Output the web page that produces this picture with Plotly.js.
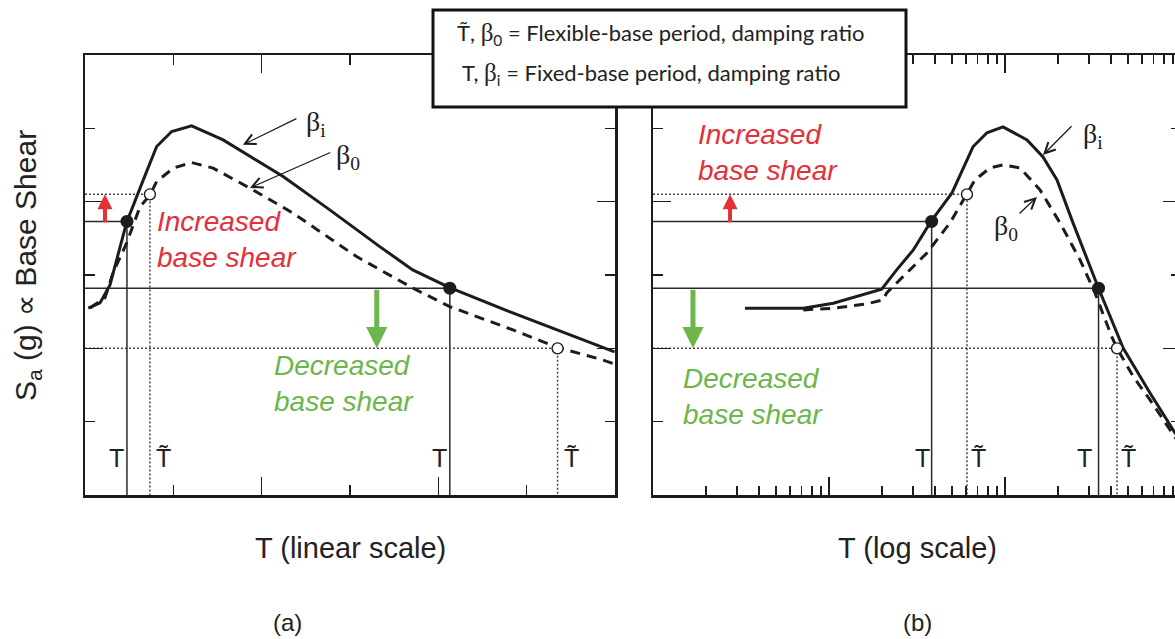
<!DOCTYPE html>
<html><head><meta charset="utf-8">
<script src="https://cdn.plot.ly/plotly-3.0.1.min.js"></script>
<style>html,body{margin:0;padding:0;overflow:hidden;background:#fff}#chart{width:1190px;height:639px}</style>
</head><body><div id="chart"></div>
<script>
// ---------- Panel (a): linear period axis ----------
const linT_fixed  = [0.037, 0.17, 0.283, 0.472, 0.66, 0.811, 0.981, 1.207, 1.564, 2.243, 2.771, 3.337, 3.71, 4.129, 4.842, 5.826, 5.995];
const linSa_fixed = [2.547, 2.619, 2.865, 3.72, 4.297, 4.752, 4.956, 5.034, 4.843, 4.342, 3.888, 3.387, 3.07, 2.828, 2.483, 2.023, 1.951];
const linT_flex   = [0.057, 0.226, 0.317, 0.472, 0.622, 0.735, 0.811, 0.999, 1.207, 1.451, 1.867, 2.356, 3.074, 3.714, 4.129, 4.845, 5.354, 5.826, 5.995];
const linSa_flex  = [2.551, 2.688, 3.029, 3.438, 3.929, 4.09, 4.274, 4.457, 4.533, 4.457, 4.184, 3.843, 3.251, 2.82, 2.569, 2.251, 2.01, 1.855, 1.787];
const linT_fixedPts  = [0.475, 4.13];
const linSa_fixedPts = [3.73, 2.82];
const linT_flexPts   = [0.735, 5.35];
const linSa_flexPts  = [4.10, 2.0];

// ---------- Panel (b): log period axis ----------
const logT_fixed  = [0.0333, 0.0714, 0.1058, 0.15, 0.1992, 0.2424, 0.3013, 0.3797, 0.4998, 0.6579, 0.79, 0.9741, 1.334, 1.644, 1.975, 2.434, 3.40, 4.70, 6.667, 9.246, 10];
const logSa_fixed = [2.547, 2.547, 2.615, 2.715, 2.806, 3.07, 3.342, 3.731, 4.12, 4.748, 4.939, 5.02, 4.843, 4.611, 4.297, 3.711, 2.82, 2.001, 1.392, 0.846, 0.737];
const logT_flex   = [0.0714, 0.1058, 0.1637, 0.2034, 0.2127, 0.2531, 0.3589, 0.487, 0.608, 0.6754, 0.8219, 0.9741, 1.2167, 1.58, 2.054, 2.668, 3.246, 4.04, 4.33, 5.358, 6.667, 8.66, 10];
const logSa_flex  = [2.524, 2.547, 2.606, 2.66, 2.756, 2.933, 3.297, 3.711, 4.10, 4.297, 4.461, 4.502, 4.461, 4.161, 3.711, 3.206, 2.756, 2.16, 2.0, 1.614, 1.296, 0.887, 0.668];
const logT_fixedPts  = [0.383, 3.40];
const logSa_fixedPts = [3.73, 2.82];
const logT_flexPts   = [0.608, 4.33];
const logSa_flexPts  = [4.10, 2.0];

// Texts
const periodLabels = ['T', 'T\u0303'];
const noteLabels = ['<i>Increased<br>base shear</i>', '<i>Decreased<br>base shear</i>'];
const betaLabels = ['β<sub>i</sub>', 'β<sub>0</sub>'];

const W = 1190, H = 639;
const INK = '#1c1c1c';
const RED = '#e3303a';
const GREEN = '#6db64b';

function guide(ts, sas, xStart, xa, ya, dash, width, color) {
  const x = [], y = [];
  ts.forEach((t, i) => { x.push(xStart, t, t, null); y.push(sas[i], sas[i], 0, null); });
  return {x, y, xaxis: xa, yaxis: ya, mode: 'lines', hoverinfo: 'skip',
          line: {color, width, dash}, showlegend: false};
}
function curve(x, y, xa, ya, dash) {
  return {x, y, xaxis: xa, yaxis: ya, mode: 'lines', hoverinfo: 'skip',
          line: {color: INK, width: 3, dash}, showlegend: false};
}
function dots(x, y, xa, ya, filled) {
  return {x, y, xaxis: xa, yaxis: ya, mode: 'markers', hoverinfo: 'skip', showlegend: false, cliponaxis: false,
          marker: filled ? {size: 13, color: INK} : {size: 11, color: '#fff', line: {color: INK, width: 1.4}}};
}

const traces = [
  guide(linT_fixedPts, linSa_fixedPts, 0, 'x', 'y', 'solid', 1.5, '#2a2a2a'),
  guide(linT_flexPts, linSa_flexPts, 0, 'x', 'y', '2px,2px', 1.5, '#444'),
  guide(logT_fixedPts, logSa_fixedPts, 0.01, 'x2', 'y2', 'solid', 1.5, '#2a2a2a'),
  guide(logT_flexPts, logSa_flexPts, 0.01, 'x2', 'y2', '2px,2px', 1.5, '#444'),
  curve(linT_flex, linSa_flex, 'x', 'y', '10px,7px'),
  curve(linT_fixed, linSa_fixed, 'x', 'y', 'solid'),
  curve(logT_flex, logSa_flex, 'x2', 'y2', '10px,7px'),
  curve(logT_fixed, logSa_fixed, 'x2', 'y2', 'solid'),
  dots(linT_fixedPts, linSa_fixedPts, 'x', 'y', true),
  dots(linT_flexPts, linSa_flexPts, 'x', 'y', false),
  dots(logT_fixedPts, logSa_fixedPts, 'x2', 'y2', true),
  dots(logT_flexPts, logSa_flexPts, 'x2', 'y2', false)
];

const logMinor = [];
[0.01, 0.1, 1].forEach(d => { for (let k = 2; k <= 9; k++) logMinor.push(k * d); });

const axBase = {showline: true, linewidth: 2.5, linecolor: INK, mirror: 'ticks', ticks: 'inside',
  ticklen: 18, tickwidth: 1.5, tickcolor: INK, showticklabels: false, showgrid: false, zeroline: false, fixedrange: true};
const ydom = [1 - 495 / H, 1 - 55 / H];

const SANS = 'Liberation Sans, Arial, sans-serif';
const textFont = {family: SANS, size: 25, color: '#222'};
const annotations = [];
function lbl(text, xref, yref, x, y, opts) {
  annotations.push(Object.assign({text, xref, yref, x, y, showarrow: false, xanchor: 'center', yanchor: 'middle', font: textFont}, opts || {}));
}
function arrow(xref, yref, x, y, ax, ay, color, width, head, size) {
  annotations.push({text: '', xref, yref, x, y, axref: xref, ayref: yref, ax, ay, showarrow: true,
    arrowcolor: color, arrowwidth: width, arrowhead: head, arrowsize: size, standoff: 0, startstandoff: 0});
}
const L10 = Math.log10;
// period labels (log panel x positions are log10 values)
lbl(periodLabels[0], 'x', 'y', 0.362, 0.5);
lbl(periodLabels[1], 'x', 'y', 0.894, 0.5);
lbl(periodLabels[0], 'x', 'y', 4.016, 0.5);
lbl(periodLabels[1], 'x', 'y', 5.51, 0.5);
lbl(periodLabels[0], 'x2', 'y2', -0.4716, 0.5);
lbl(periodLabels[1], 'x2', 'y2', -0.1534, 0.5);
lbl(periodLabels[0], 'x2', 'y2', 0.449, 0.5);
lbl(periodLabels[1], 'x2', 'y2', 0.7045, 0.5);
// coloured notes
const noteFont = c => ({family: SANS, size: 28, color: c});
lbl(noteLabels[0], 'x', 'y', 0.79, 3.486, {xanchor: 'left', align: 'left', font: noteFont(RED)});
lbl(noteLabels[1], 'x', 'y', 2.115, 1.52, {xanchor: 'left', align: 'left', font: noteFont(GREEN)});
lbl(noteLabels[0], 'x2', 'y2', -1.7557, 4.67, {xanchor: 'left', align: 'left', font: noteFont(RED)});
lbl(noteLabels[1], 'x2', 'y2', -1.841, 1.344, {xanchor: 'left', align: 'left', font: noteFont(GREEN)});
// base-shear change arrows: from fixed-base level to flexible-base level
arrow('x', 'y', 0.226, linSa_flexPts[0], 0.226, linSa_fixedPts[0] - 0.03, RED, 4, 2, 0.75);
arrow('x2', 'y2', L10(0.0274), logSa_flexPts[0], L10(0.0274), logSa_fixedPts[0] - 0.03, RED, 4, 2, 0.75);
arrow('x', 'y', 3.303, linSa_flexPts[1], 3.303, linSa_fixedPts[1], GREEN, 5, 2, 0.85);
arrow('x2', 'y2', L10(0.01687), logSa_flexPts[1], L10(0.01687), logSa_fixedPts[1], GREEN, 5, 2, 0.85);
// beta labels and pointers
const betaFont = {family: 'Liberation Serif, Times New Roman, serif', size: 28, color: '#222'};
lbl(betaLabels[0], 'x', 'y', 2.613, 5.06, {font: betaFont});
lbl(betaLabels[1], 'x', 'y', 2.98, 4.61, {font: betaFont});
lbl(betaLabels[0], 'x2', 'y2', 0.5, 4.9, {font: betaFont});
lbl(betaLabels[1], 'x2', 'y2', 0.006, 3.643, {font: betaFont});
arrow('x', 'y', 1.787, 4.775, 2.41, 5.143, INK, 1.3, 5, 1.6);
arrow('x', 'y', 1.867, 4.188, 2.794, 4.679, INK, 1.3, 5, 1.6);
arrow('x2', 'y2', 0.2159, 4.638, 0.3864, 5.048, INK, 1.3, 5, 1.6);
arrow('x2', 'y2', 0.1818, 4.065, 0.0739, 3.82, INK, 1.3, 5, 1.6);
// axis titles and panel tags
const titleFont = {family: SANS, size: 29, color: '#222'};
lbl('T (linear scale)', 'x domain', 'paper', 0.5, 1 - 548 / H, {font: titleFont});
lbl('T (log scale)', 'x2 domain', 'paper', 0.5, 1 - 548 / H, {font: titleFont});
lbl('S<sub>a</sub> (g) ∝ Base Shear', 'paper', 'paper', 27 / W, 1 - 266 / H, {textangle: -90, font: {family: SANS, size: 30, color: '#222'}});
const tagFont = {family: SANS, size: 24, color: '#222'};
lbl('(a)', 'paper', 'paper', 287 / W, 0.002, {yanchor: 'bottom', font: tagFont});
lbl('(b)', 'x2 domain', 'paper', 0.5, 0.002, {yanchor: 'bottom', font: tagFont});
// definition box text
const boxFont = {family: 'Lato, Open Sans, sans-serif', size: 22, color: '#222'};
const sb = s => '<span style="font-family:Liberation Serif,serif;font-size:25px">' + s + '</span>';
lbl('T\u0303, ' + sb('β') + '<sub>0</sub> = Flexible-base period, damping ratio', 'paper', 'paper', 455 / W, 1 - 34 / H, {xanchor: 'left', font: boxFont});
lbl('T, ' + sb('β') + '<sub>i</sub> = Fixed-base period, damping ratio', 'paper', 'paper', 460 / W, 1 - 74 / H, {xanchor: 'left', font: boxFont});

const layout = {
  width: W, height: H, margin: {l: 0, r: 0, t: 0, b: 0},
  paper_bgcolor: '#fff', plot_bgcolor: '#fff', showlegend: false,
  xaxis: Object.assign({}, axBase, {domain: [85 / W, 615 / W], range: [0, 6], tickvals: [2, 4], anchor: 'y',
    minor: {tickvals: [1, 3, 5], ticks: 'inside', ticklen: 10, tickwidth: 1.5, tickcolor: INK, showgrid: false}}),
  yaxis: Object.assign({}, axBase, {domain: ydom, range: [0, 6], tickvals: [2, 4], anchor: 'x',
    minor: {tickvals: [1, 3, 5], ticks: 'inside', ticklen: 10, tickwidth: 1.5, tickcolor: INK, showgrid: false}}),
  xaxis2: Object.assign({}, axBase, {domain: [653 / W, 1181 / W], type: 'log', range: [-2, 1], tickvals: [0.1, 1], anchor: 'y2',
    minor: {tickvals: logMinor, ticks: 'inside', ticklen: 9, tickwidth: 1.5, tickcolor: INK, showgrid: false}}),
  yaxis2: Object.assign({}, axBase, {domain: ydom, range: [0, 6], tickvals: [2, 4], anchor: 'x2',
    minor: {tickvals: [1, 3, 5], ticks: 'inside', ticklen: 10, tickwidth: 1.5, tickcolor: INK, showgrid: false}}),
  shapes: [{type: 'rect', xref: 'paper', yref: 'paper', x0: 433 / W, x1: 906 / W, y0: 1 - 107 / H, y1: 1 - 10 / H,
    line: {color: '#111', width: 3}, fillcolor: '#fff', layer: 'above'}],
  annotations
};
Plotly.newPlot('chart', traces, layout, {staticPlot: true, displayModeBar: false});
</script></body></html>
